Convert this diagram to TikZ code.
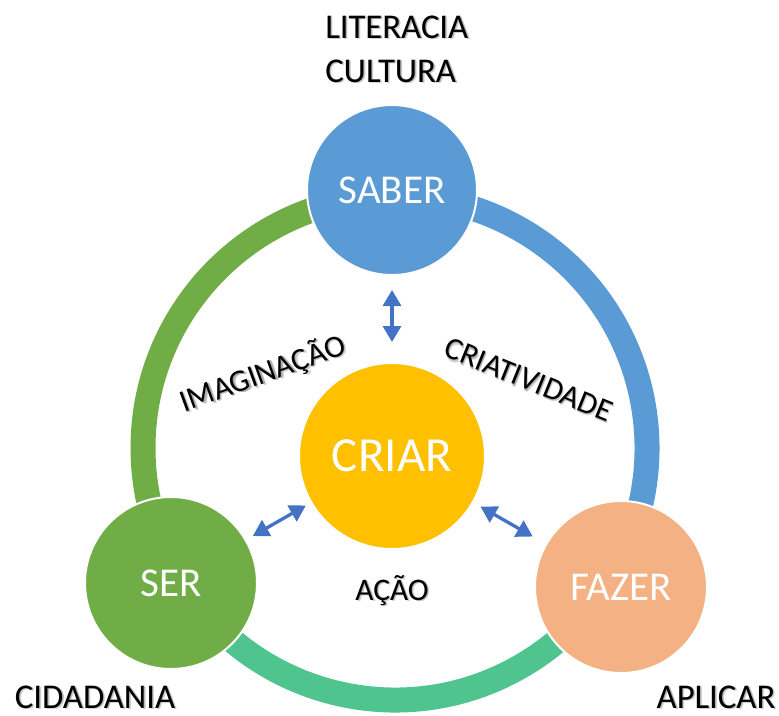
\documentclass[tikz,border=0pt]{standalone}
\usepackage{fontspec}
\setmainfont{Carlito}
\usetikzlibrary{arrows.meta}

\definecolor{saberblue}{HTML}{5B9BD5}
\definecolor{sergreen}{HTML}{70AD47}
\definecolor{fazerorange}{HTML}{F4B183}
\definecolor{criargold}{HTML}{FFC000}
\definecolor{acaogreen}{HTML}{50C48E}
\definecolor{arrowblue}{HTML}{4472C4}

\newcommand{\shadowed}[1]{\leavevmode\rlap{\kern1.4pt\raisebox{-1.4pt}{\textcolor{black!18}{#1}}}\rlap{\kern0.7pt\raisebox{-0.7pt}{\textcolor{black!32}{#1}}}#1}

\begin{document}
\begin{tikzpicture}[x=0.75pt,y=0.75pt,
	bubble/.style={circle,draw=white,line width=1.5pt,text=white,inner sep=0pt,font=\fontsize{30.75}{30.75}\selectfont},
	ring/.style={line width=18.75pt},
	twoway/.style={{Triangle[length=12pt,width=13.5pt]}-{Triangle[length=12pt,width=13.5pt]},draw=arrowblue,line width=2.5pt},
	lbl/.style={inner sep=0pt,font=\fontsize{26}{26}\selectfont},
	inlbl/.style={inner sep=0pt,font=\fontsize{23.5}{23.5}\selectfont}]

	\useasboundingbox (0,0) rectangle (779,-715);

	\draw[ring,sergreen] (395,-448) ++(90:252) arc[start angle=90,end angle=211,radius=252];
	\draw[ring,acaogreen] (395,-448) ++(211:252) arc[start angle=211,end angle=329,radius=252];
	\draw[ring,saberblue] (395,-448) ++(-31:252) arc[start angle=-31,end angle=90,radius=252];

	\node[bubble,fill=criargold,minimum size=139.5pt,font=\fontsize{36.75}{36.75}\selectfont] (criar) at (392,-456) {CRIAR};
	\node[bubble,fill=saberblue,minimum size=127.5pt] (saber) [above of=criar, node distance=199.5pt] {SABER};
	\node[bubble,fill=sergreen,minimum size=129pt] (ser) at (171,-583) {SER};
	\node[bubble,fill=fazerorange,minimum size=129pt] (fazer) at (621,-587) {FAZER};

	\draw[twoway,shorten <=10.5pt,shorten >=15pt] (saber) -- (criar);
	\draw[twoway,shorten <=5.5pt,shorten >=4pt] (ser) -- (criar);
	\draw[twoway,shorten <=6pt,shorten >=11pt] (criar) -- (fazer);

	\node[lbl,anchor=base west] (literacia) at (325,-38) {\shadowed{LITERACIA}};
	\node[lbl,anchor=base west] (cultura) at (325,-82) {\shadowed{CULTURA}};
	\node[lbl,anchor=base] (cidadania) at (95,-708) {\shadowed{CIDADANIA}};
	\node[lbl,anchor=base] (aplicar) at (716,-708) {\shadowed{APLICAR}};

	\node[inlbl,anchor=base,rotate=20] (imaginacao) at (266,-383) {\shadowed{IMAGINAÇÃO}};
	\node[inlbl,anchor=base,rotate=-22] (criatividade) at (525,-389) {\shadowed{CRIATIVIDADE}};
	\node[inlbl,anchor=base] (acao) at (392,-600) {\shadowed{AÇÃO}};

\end{tikzpicture}
\end{document}
